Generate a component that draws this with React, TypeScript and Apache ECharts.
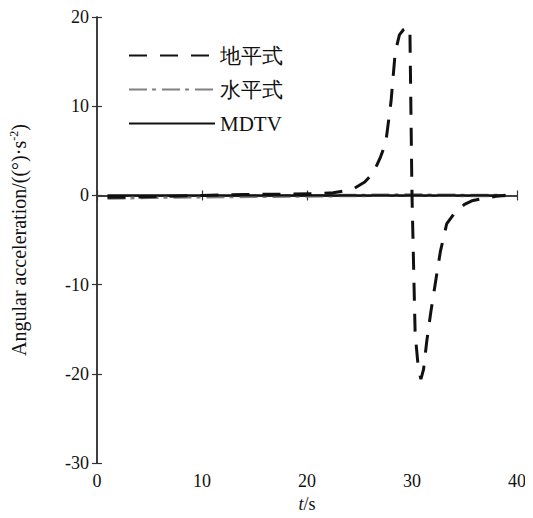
import React, { useEffect, useRef } from "react";
import * as echarts from "echarts";

const xTicks = [0, 10, 20, 30, 40];
const yTicks = [-30, -20, -10, 0, 10, 20];

const seriesNames = ["地平式", "水平式", "MDTV"];

const tDi = [1, 3, 6, 10, 14, 18, 21, 22.5, 23.5, 24.5, 25.5, 26.3, 27, 27.5, 28, 28.4, 28.8, 29.2, 29.6, 29.8, 30.0, 30.3, 30.6, 30.85, 31.1, 31.4, 31.8, 32.2, 32.7, 33.3, 34.1, 35.0, 35.7, 37, 38, 38.9];
const vDi = [-0.2, -0.2, -0.1, 0, 0.1, 0.15, 0.2, 0.3, 0.5, 0.8, 1.5, 2.5, 4.3, 5.9, 10.5, 16, 18, 18.6, 18.9, 18.6, 0, -15.5, -19.3, -20.6, -19.5, -16.4, -13, -10, -6.3, -3.2, -1.9, -1.0, -0.6, -0.3, -0.1, 0];

const tShui = [1, 5, 10, 15, 20, 25, 30, 35, 38.9];
const vShui = [-0.3, -0.2, -0.15, -0.1, -0.05, 0, 0.05, 0, 0];

const tMdtv = [1, 10, 20, 30, 38.9];
const vMdtv = [0, 0, 0, 0, 0];

const zip = (t: number[], v: number[]) => t.map((x, i) => [x, v[i]]);

export default function App() {
  const ref = useRef<HTMLDivElement>(null);
  useEffect(() => {
    if (!ref.current) return;
    const chart = echarts.init(ref.current, null, { renderer: "svg" });
    const font = "Liberation Serif";
    const axisColor = "#333";
    const tickStyle = { show: true, inside: true, length: 5, lineStyle: { color: axisColor, width: 1.2 } };
    chart.setOption({
      animation: false,
      backgroundColor: "#fff",
      textStyle: { fontFamily: font },
      grid: { left: 97, right: 16, top: 17, bottom: 48, containLabel: false },
      legend: {
        orient: "vertical",
        left: 123,
        top: 40,
        itemWidth: 86,
        itemHeight: 14,
        itemGap: 13,
        data: seriesNames,
        itemStyle: { opacity: 0 },
        textStyle: { fontFamily: font, fontSize: 21, color: "#111" },
      },
      xAxis: [
        {
          type: "value",
          min: 0,
          max: 40,
          interval: 10,
          position: "bottom",
          name: "{i|t}/s",
          nameLocation: "middle",
          nameGap: 31,
          nameTextStyle: {
            fontFamily: font,
            fontSize: 18,
            color: "#111",
            rich: { i: { fontStyle: "italic", fontFamily: font, fontSize: 18, color: "#111" } },
          },
          axisLine: { show: true, lineStyle: { color: axisColor, width: 1.5 } },
          axisTick: tickStyle,
          axisLabel: { fontFamily: font, fontSize: 18, color: "#111", margin: 9 },
          splitLine: { show: false },
        },
        {
          type: "value",
          min: 0,
          max: 40,
          interval: 10,
          position: "top",
          axisLine: { show: true, lineStyle: { color: axisColor, width: 1.5 } },
          axisTick: tickStyle,
          axisLabel: { show: false },
          splitLine: { show: false },
        },
      ],
      yAxis: [
        {
          type: "value",
          min: -30,
          max: 20,
          interval: 10,
          position: "left",
          name: "Angular acceleration/((°)·s{s|-2})",
          nameLocation: "middle",
          nameGap: 67,
          nameTextStyle: {
            fontFamily: font,
            fontSize: 20,
            color: "#111",
            rich: { s: { fontFamily: font, fontSize: 12, color: "#111", verticalAlign: "top", padding: [0, 0, 10, 0] } },
          },
          axisLine: { show: true, lineStyle: { color: axisColor, width: 1.5 } },
          axisTick: tickStyle,
          axisLabel: { fontFamily: font, fontSize: 18, color: "#111", margin: 8 },
          splitLine: { show: false },
        },
        {
          type: "value",
          min: -30,
          max: 20,
          interval: 10,
          position: "right",
          axisLine: { show: true, lineStyle: { color: axisColor, width: 1.5 } },
          axisTick: tickStyle,
          axisLabel: { show: false },
          splitLine: { show: false },
        },
      ],
      series: [
        {
          name: seriesNames[0],
          type: "line",
          data: zip(tDi, vDi),
          showSymbol: false,
          symbol: "none",
          lineStyle: { color: "#111", width: 3, type: [18, 13] },
          itemStyle: { color: "#111" },
          z: 3,
        },
        {
          name: seriesNames[1],
          type: "line",
          data: zip(tShui, vShui),
          showSymbol: false,
          symbol: "none",
          lineStyle: { color: "#808080", width: 3.5, type: [18, 5, 4, 6] },
          itemStyle: { color: "#808080" },
          z: 2,
        },
        {
          name: seriesNames[2],
          type: "line",
          data: zip(tMdtv, vMdtv),
          showSymbol: false,
          symbol: "none",
          lineStyle: { color: "#111", width: 2.2, type: "solid" },
          itemStyle: { color: "#111" },
          z: 4,
        },
      ],
    });
    return () => chart.dispose();
  }, []);
  return <div ref={ref} style={{ width: 533, height: 518, margin: -8 }} />;
}
